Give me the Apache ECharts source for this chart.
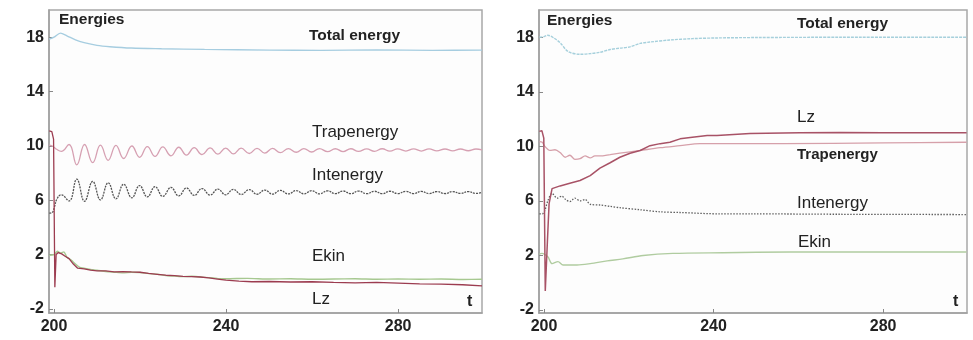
<!DOCTYPE html>
<html><head><meta charset="utf-8">
<script src="https://cdn.jsdelivr.net/npm/echarts@6/dist/echarts.min.js"></script>
<style>html,body{margin:0;padding:0;background:#fff}#c{width:973px;height:340px}</style>
</head><body><div id="c"></div>
<script>
// ---------- tick labels ----------
const xTicks = [200, 240, 280];
const yTicks = [-2, 2, 6, 10, 14, 18];

// ---------- LEFT PANEL ----------
// oscillation extremes (t) for Trapenergy / Intenergy
const tOscL = [201.7,203.5,205.3,207.1,209.0,210.8,212.6,214.4,216.2,218.1,219.9,221.7,223.5,225.3,227.2,229.0,230.8,232.6,234.4,236.3,238.1,239.9,241.7,243.5,245.4,247.2,249.0,250.8,252.6,254.5,256.3,258.1,259.9,261.7,263.6,265.4,267.2,269.0,270.8,272.7,274.5,276.3,278.1,279.9,281.8,283.6,285.4,287.2,289.0,290.9,292.7,294.5,296.3,298.1,299.5];
const trapHeadTL = [198.9, 199.8, 200.6];
const trapHeadL  = [10.05, 9.95, 9.75];
const trapL = [9.60,10.10,8.60,10.10,8.77,10.05,8.94,10.04,9.07,9.99,9.16,9.95,9.22,9.92,9.27,9.90,9.32,9.87,9.36,9.85,9.39,9.84,9.41,9.83,9.44,9.82,9.47,9.81,9.50,9.80,9.53,9.80,9.55,9.80,9.57,9.79,9.58,9.79,9.59,9.78,9.60,9.79,9.61,9.78,9.62,9.78,9.62,9.78,9.63,9.77,9.63,9.77,9.64,9.77,9.70];
const intHeadTL = [198.9, 199.6, 200.1, 200.7];
const intHeadL  = [5.05, 5.10, 5.50, 6.10];
const intL = [6.40,5.95,7.55,5.92,7.38,6.02,7.28,6.10,7.18,6.18,7.08,6.24,7.00,6.28,6.94,6.32,6.90,6.35,6.86,6.38,6.82,6.40,6.80,6.42,6.78,6.44,6.75,6.45,6.73,6.46,6.71,6.47,6.70,6.47,6.69,6.48,6.68,6.48,6.67,6.48,6.66,6.48,6.66,6.49,6.65,6.49,6.65,6.49,6.64,6.49,6.64,6.50,6.64,6.50,6.57];

const tTotL = [198.9,200.0,201.5,203.0,205.0,207.0,210.0,213.0,218.0,225.0,235.0,250.0,262.0,275.0,288.0,299.5];
const totL  = [17.85,18.0,18.3,18.1,17.8,17.6,17.4,17.3,17.2,17.15,17.1,17.05,17.03,17.06,17.03,17.05];

const tEkinL = [198.9,200.0,200.8,201.5,202.3,203.0,204.0,205.0,206.0,207.0,208.5,210.0,212.0,214.0,216.0,218.0,220.0,222.0,224.0,226.0,228.0,230.0,232.0,234.0,236.0,238.0,240.0,245.0,250.0,255.0,260.0,265.0,270.0,275.0,280.0,285.0,290.0,295.0,299.5];
const ekinL  = [1.95,2.0,2.25,2.1,2.2,1.8,1.6,1.3,1.05,1.0,0.9,0.85,0.75,0.7,0.65,0.7,0.68,0.6,0.55,0.45,0.42,0.38,0.4,0.35,0.3,0.25,0.22,0.25,0.2,0.22,0.18,0.2,0.22,0.18,0.2,0.18,0.2,0.17,0.18];

const tLzL = [198.9,199.5,199.9,200.2,200.5,201.0,201.8,202.5,203.5,204.5,205.5,207.0,208.5,210.0,212.0,214.0,216.0,218.0,220.0,222.0,224.0,226.0,228.0,230.0,232.0,234.0,236.0,238.0,240.0,243.0,246.0,250.0,255.0,260.0,265.0,270.0,275.0,280.0,285.0,290.0,295.0,299.5];
const lzL  = [11.1,11.05,10.5,-0.4,2.0,2.15,2.05,1.9,1.7,1.3,1.0,0.95,0.85,0.8,0.8,0.72,0.75,0.72,0.7,0.62,0.55,0.48,0.45,0.4,0.38,0.35,0.28,0.2,0.12,0.05,0.0,0.02,-0.02,0.0,-0.05,-0.08,-0.05,-0.1,-0.15,-0.18,-0.22,-0.3];

// ---------- RIGHT PANEL ----------
const tTotR = [198.9,200.0,200.9,202.3,203.8,205.7,208.5,210.9,213.2,215.6,217.9,220.3,222.7,225.0,229.7,235.0,240.8,250.0,270.0,299.7];
const totR  = [18.0,18.05,18.15,17.95,17.6,16.95,16.75,16.8,16.9,17.1,17.2,17.3,17.55,17.65,17.8,17.9,17.95,17.98,18.0,18.0];

const tLzR = [198.9,199.5,199.95,200.3,200.8,201.2,201.9,203.8,206.1,208.5,210.9,213.2,215.6,217.9,220.3,222.7,225.0,227.4,229.7,232.1,234.5,238.5,240.8,248.6,260.4,270.0,280.0,290.0,299.7];
const lzR  = [11.1,11.15,10.6,-0.6,3.0,5.8,6.9,7.1,7.3,7.5,7.85,8.4,8.8,9.2,9.5,9.7,10.05,10.2,10.3,10.55,10.65,10.8,10.8,10.95,11.0,11.02,11.0,11.0,11.0];

const tTrapR = [198.9,199.6,200.2,201.4,202.6,203.8,205.0,206.1,207.3,208.5,209.7,210.9,212.0,213.2,215.6,217.9,222.7,227.4,232.1,236.8,240.8,256.4,280.0,299.7];
const trapR  = [10.35,10.3,10.0,9.7,9.75,9.55,9.2,9.35,9.05,9.1,9.3,9.15,9.3,9.3,9.4,9.5,9.7,9.9,10.05,10.2,10.2,10.2,10.25,10.3];

const tIntR = [198.9,199.6,200.2,200.9,201.9,203.1,204.2,205.1,206.1,207.3,208.5,209.7,210.9,213.2,215.6,217.9,222.7,227.4,232.1,241.5,248.6,270.0,299.7];
const intR  = [5.05,5.05,5.3,6.0,6.55,6.2,6.35,6.1,5.95,6.2,6.0,6.1,5.75,5.7,5.6,5.5,5.35,5.2,5.15,5.05,5.05,5.02,5.0];

const tEkinR = [198.9,199.5,200.9,201.9,203.3,204.5,207.8,210.9,214.9,218.6,223.4,230.4,242.2,258.1,280.0,299.7];
const ekinR  = [2.1,2.15,1.9,1.4,1.55,1.3,1.3,1.4,1.6,1.75,2.0,2.15,2.2,2.25,2.25,2.25];

function pairs(ts, vs){ return ts.map((t,i)=>[t, vs[i]]); }

const FONT = '"Liberation Sans", Arial, sans-serif';
const chart = echarts.init(document.getElementById('c'), null, {renderer:'canvas'});

function xAxisCfg(gi, min, max){
  return {type:'value', gridIndex:gi, min:min, max:max,
    axisLine:{show:true, onZero:false, lineStyle:{color:'#a0a0a0', width:1.5}},
    axisTick:{show:true, inside:true, length:4, customValues:xTicks, lineStyle:{color:'#888'}},
    axisLabel:{show:true, customValues:xTicks, margin:6, color:'#222', fontFamily:FONT, fontWeight:'bold', fontSize:16},
    splitLine:{show:false}};
}
function yAxisCfg(gi, min, max){
  return {type:'value', gridIndex:gi, min:min, max:max,
    axisLine:{show:true, onZero:false, lineStyle:{color:'#a0a0a0', width:1.5}},
    axisTick:{show:true, inside:true, length:4, customValues:yTicks, lineStyle:{color:'#888'}},
    axisLabel:{show:true, customValues:yTicks, margin:5, color:'#222', fontFamily:FONT, fontWeight:'bold', fontSize:16},
    splitLine:{show:false}};
}
function line(gi, data, color, width, type, smooth){
  return {type:'line', xAxisIndex:gi, yAxisIndex:gi, data:data, showSymbol:false, symbol:'none',
    smooth:smooth, animation:false, lineStyle:{color:color, width:width, type:type}, silent:true};
}
function txt(x, y, s, size, bold){
  return {type:'text', x:x, y:y, silent:true,
    style:{text:s, fill:'#222', font:(bold?'bold ':'')+size+'px '+FONT, verticalAlign:'middle', align:'left'}};
}

chart.setOption({
  backgroundColor:'#fff',
  animation:false,
  grid:[
    {left:49, right:491, top:10, bottom:27, show:true, borderColor:'#a8a8a8', borderWidth:1.5, backgroundColor:'#fdfdfd'},
    {left:539, right:6, top:10, bottom:27, show:true, borderColor:'#a8a8a8', borderWidth:1.5, backgroundColor:'#fdfdfd'}
  ],
  xAxis:[xAxisCfg(0, 198.84, 299.5), xAxisCfg(1, 198.82, 299.8)],
  yAxis:[yAxisCfg(0, -2.3, 20), yAxisCfg(1, -2.22, 20)],
  series:[
    line(0, pairs(tTotL, totL), '#a6cde0', 1.4, 'solid', 0.3),
    line(0, pairs(trapHeadTL.concat(tOscL), trapHeadL.concat(trapL)), '#d6a0b2', 1.3, 'solid', 0.45),
    line(0, pairs(intHeadTL.concat(tOscL), intHeadL.concat(intL)), '#555555', 1.3, [2,1], 0.45),
    line(0, pairs(tEkinL, ekinL), '#a6c890', 1.4, 'solid', 0.2),
    line(0, pairs(tLzL, lzL), '#9c3c50', 1.3, 'solid', false),
    line(1, pairs(tTotR, totR), '#a6d0dc', 1.4, [3,1], 0.3),
    line(1, pairs(tTrapR, trapR), '#d6a0aa', 1.3, 'solid', 0.3),
    line(1, pairs(tIntR, intR), '#606060', 1.3, [1.5,1.5], 0.3),
    line(1, pairs(tEkinR, ekinR), '#b0cca0', 1.4, 'solid', 0.3),
    line(1, pairs(tLzR, lzR), '#a85266', 1.5, 'solid', false)
  ],
  graphic:[
    txt(59, 20, 'Energies', 15.5, true),
    txt(309, 36, 'Total energy', 15.5, true),
    txt(312, 132, 'Trapenergy', 17, false),
    txt(312, 175, 'Intenergy', 17, false),
    txt(312, 256, 'Ekin', 17, false),
    txt(312, 299, 'Lz', 17, false),
    txt(467, 302, 't', 16, true),
    txt(547, 21, 'Energies', 15.5, true),
    txt(797, 24, 'Total energy', 15.5, true),
    txt(797, 117, 'Lz', 17, false),
    txt(797, 155, 'Trapenergy', 15, true),
    txt(797, 203, 'Intenergy', 17, false),
    txt(798, 242, 'Ekin', 17, false),
    txt(953, 302, 't', 16, true)
  ]
});
</script></body></html>
